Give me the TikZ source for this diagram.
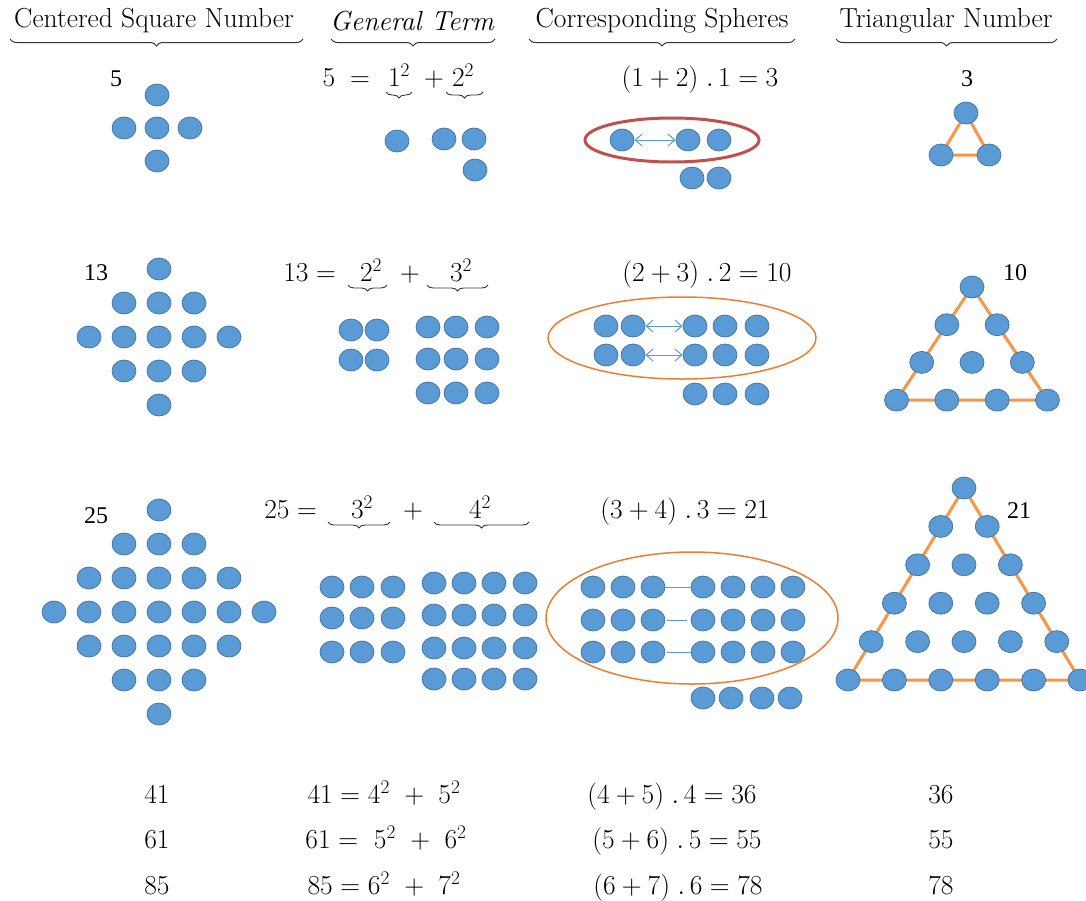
\RequirePackage{fix-cm}
\documentclass[tikz,border=0pt]{standalone}
\usepackage{fontspec}
\newfontfamily\timesf{Liberation Serif}
\usetikzlibrary{shapes.geometric,decorations.pathreplacing,arrows.meta}
\definecolor{dotfill}{HTML}{5B9BD5}
\definecolor{dotline}{HTML}{41719C}
\definecolor{triorange}{HTML}{F79646}
\definecolor{ellorange}{HTML}{ED7D31}
\definecolor{ellred}{HTML}{C0504D}
\pgfdeclarelayer{bg}
\pgfsetlayers{bg,main}
\tikzset{
 ball/.style={ellipse, fill=dotfill, draw=dotline, line width=0.7pt, minimum width=24pt, minimum height=22pt, inner sep=0pt},
 header/.style={font=\fontsize{27.5}{32}\selectfont, inner sep=0pt},
 eq/.style={font=\fontsize{27.5}{32}\selectfont, inner sep=0pt, anchor=base},
 lbl/.style={font=\timesf\fontsize{24}{28}\selectfont, inner sep=0pt, anchor=base},
 hbrace/.style={decorate, decoration={brace, mirror, amplitude=7pt}, line width=1pt, draw=black!80},
 sbrace/.style={decorate, decoration={brace, mirror, amplitude=6pt}, line width=0.9pt, draw=black!80},
 triedge/.style={draw=triorange, line width=3pt},
 link/.style={draw=dotfill, line width=1pt},
 dbl/.style={link, {Straight Barb[length=7pt,width=12pt]}-{Straight Barb[length=7pt,width=12pt]}},
 ellipsebox/.style={draw=ellorange, line width=1.5pt},
}
\begin{document}
\begin{tikzpicture}[x=1pt,y=-1pt]
\useasboundingbox (0,0) rectangle (1086,900);
\begin{pgfonlayer}{bg}
\fill[white] (0,0) rectangle (1086,900);
\end{pgfonlayer}
% headers
\node[header] (h1) at (154,21) {Centered Square Number};
\node[header] (h2) at (412,21) {\itshape General Term};
\node[header] (h3) at (662,21) {Corresponding Spheres};
\node[header] (h4) at (946,21) {Triangular Number};
\draw[hbrace] (10,39) -- (303,39);
\draw[hbrace] (331,39) -- (495,39);
\draw[hbrace] (529,39) -- (795,39);
\draw[hbrace] (836,39) -- (1057,39);
% ---------- column 1: centered square numbers
\node[lbl] (n5) at (116,86) {5};
\node[lbl] (n13) at (96,280) {13};
\node[lbl] (n25) at (96,523) {25};
\foreach \i in {-1,0,1}\foreach \j in {-1,0,1}{
  \pgfmathtruncatemacro\d{abs(\i)+abs(\j)}
  \ifnum\d<2 \node[ball] (a1-\i-\j) at ({157+33*\i},{128+33*\j}) {};\fi}
\foreach \i in {-2,...,2}\foreach \j in {-2,...,2}{
  \pgfmathtruncatemacro\d{abs(\i)+abs(\j)}
  \ifnum\d<3 \node[ball] (a2-\i-\j) at ({159+35*\i},{337+34*\j}) {};\fi}
\foreach \i in {-3,...,3}\foreach \j in {-3,...,3}{
  \pgfmathtruncatemacro\d{abs(\i)+abs(\j)}
  \ifnum\d<4 \node[ball] (a3-\i-\j) at ({159+35*\i},{612+34*\j}) {};\fi}
% ---------- column 2: general term
\node[eq] (g1a) at (329,86) {$5$};
\node[eq] (g1b) at (360,86) {$=$};
\node[eq] (g1c) at (399,86) {$1^2$};
\node[eq] (g1d) at (434,86) {$+$};
\node[eq] (g1e) at (463,86) {$2^2$};
\draw[sbrace] (386,92) -- (412,92);
\draw[sbrace] (446,92) -- (483,92);
\node[ball] (g1-1) at (397,141) {};
\node[ball] (g1-2) at (444,139) {};
\node[ball] (g1-3) at (474,139) {};
\node[ball] (g1-4) at (475,170) {};
\node[eq] (g2a) at (296,281) {$13$};
\node[eq] (g2b) at (326,281) {$=$};
\node[eq] (g2c) at (371,281) {$2^2$};
\node[eq] (g2d) at (410,281) {$+$};
\node[eq] (g2e) at (461,281) {$3^2$};
\draw[sbrace] (348,285) -- (387,285);
\draw[sbrace] (427,285) -- (488,285);
\foreach \x [count=\c] in {351,377}\foreach \y [count=\r] in {330,360}
  \node[ball] (g2s-\r-\c) at (\x,\y) {};
\foreach \x [count=\c] in {428,456,487}\foreach \y [count=\r] in {327,359,393}
  \node[ball] (g2t-\r-\c) at (\x,\y) {};
\node[eq] (g3a) at (277,518) {$25$};
\node[eq] (g3b) at (307,518) {$=$};
\node[eq] (g3c) at (362,518) {$3^2$};
\node[eq] (g3d) at (413,518) {$+$};
\node[eq] (g3e) at (480,518) {$4^2$};
\draw[sbrace] (328,522) -- (390,522);
\draw[sbrace] (434,522) -- (529,522);
\foreach \x [count=\c] in {332,362,393}\foreach \y [count=\r] in {587,618,652}
  \node[ball] (g3s-\r-\c) at (\x,\y) {};
\foreach \x [count=\c] in {434,464,494,525}\foreach \y [count=\r] in {583,615,648,679}
  \node[ball] (g3t-\r-\c) at (\x,\y) {};
% ---------- column 3: corresponding spheres
\node[eq] (c1t) at (700,86) {$(1+2)\;.\,1=3$};
\node[eq] (c2t) at (707,281) {$(2+3)\;.\,2=10$};
\node[eq] (c3t) at (685,518) {$(3+4)\;.\,3=21$};
% row 1
\node[ball] (c1-1) at (622,140) {};
\node[ball] (c1-2) at (688,140) {};
\node[ball] (c1-3) at (719,140) {};
\node[ball] (c1-4) at (692,178) {};
\node[ball] (c1-5) at (719,178) {};
\draw[dbl] (c1-1) -- (c1-2);
\draw[ellred, line width=3pt] (672,140) ellipse [x radius=87pt, y radius=22pt];
% row 2
\foreach \y [count=\r] in {326,355}{
  \foreach \x [count=\c] in {606,633} \node[ball] (c2l-\r-\c) at (\x,\y) {};
  \foreach \x [count=\c] in {695,725,757} \node[ball] (c2r-\r-\c) at (\x,\y) {};
  \draw[dbl] (c2l-\r-2) -- (c2r-\r-1);}
\foreach \x [count=\c] in {695,725,757} \node[ball] (c2b-\c) at (\x,394) {};
\draw[ellipsebox] (682,338) ellipse [x radius=134pt, y radius=41pt];
% row 3
\foreach \y [count=\r] in {587,620,652}{
  \foreach \x [count=\c] in {593,623,653} \node[ball] (c3l-\r-\c) at (\x,\y) {};
  \foreach \x [count=\c] in {703,733,763,793} \node[ball] (c3r-\r-\c) at (\x,\y) {};}
\foreach \x [count=\c] in {703,731,762,790} \node[ball] (c3b-\c) at (\x,698) {};
\draw[link] (c3l-1-3) -- (c3r-1-1);
\draw[link, shorten <=2pt, shorten >=4pt] (c3l-2-3) -- (c3r-2-1);
\draw[link, shorten <=2pt] (c3l-3-3) -- (c3r-3-1);
\draw[ellipsebox] (692,618) ellipse [x radius=146pt, y radius=66pt];
% ---------- column 4: triangular numbers
\node[lbl] (tl1) at (967,86) {3};
\node[lbl] (tl2) at (1015,280) {10};
\node[lbl] (tl3) at (1019,518) {21};
\node[ball] (t1-0-0) at (966,113) {};
\node[ball] (t1-1-0) at (941,155) {};
\node[ball] (t1-1-1) at (989,155) {};
\foreach \r in {0,...,3}\foreach \k in {0,...,\r}
  \node[ball] (t2-\r-\k) at ({972+(\k-\r/2)*50.3},{287+37.7*\r}) {};
\foreach \r in {0,...,5}\foreach \k in {0,...,\r}
  \node[ball] (t3-\r-\k) at ({964+(\k-\r/2)*46.4},{488+38.4*\r}) {};
\begin{pgfonlayer}{bg}
\draw[triedge] (t1-0-0.center) -- (t1-1-0.center) -- (t1-1-1.center) -- cycle;
\draw[triedge] (t2-0-0.center) -- (t2-3-0.center) -- (t2-3-3.center) -- cycle;
\draw[triedge] (t3-0-0.center) -- (t3-5-0.center) -- (t3-5-5.center) -- cycle;
\end{pgfonlayer}
% ---------- bottom table
\node[eq] (b1a) at (157,803) {$41$};
\node[eq] (b1b) at (384,803) {$41=4^2\ +\ 5^2$};
\node[eq] (b1c) at (672,803) {$(4+5)\;.\,4=36$};
\node[eq] (b1d) at (941,803) {$36$};
\node[eq] (b2a) at (157,848) {$61$};
\node[eq] (b2b) at (386,848) {$61=\ 5^2\ +\ 6^2$};
\node[eq] (b2c) at (677,848) {$(5+6)\;.\,5=55$};
\node[eq] (b2d) at (941,848) {$55$};
\node[eq] (b3a) at (157,894) {$85$};
\node[eq] (b3b) at (384,894) {$85=6^2\ +\ 7^2$};
\node[eq] (b3c) at (678,894) {$(6+7)\;.\,6=78$};
\node[eq] (b3d) at (941,894) {$78$};
\end{tikzpicture}
\end{document}
